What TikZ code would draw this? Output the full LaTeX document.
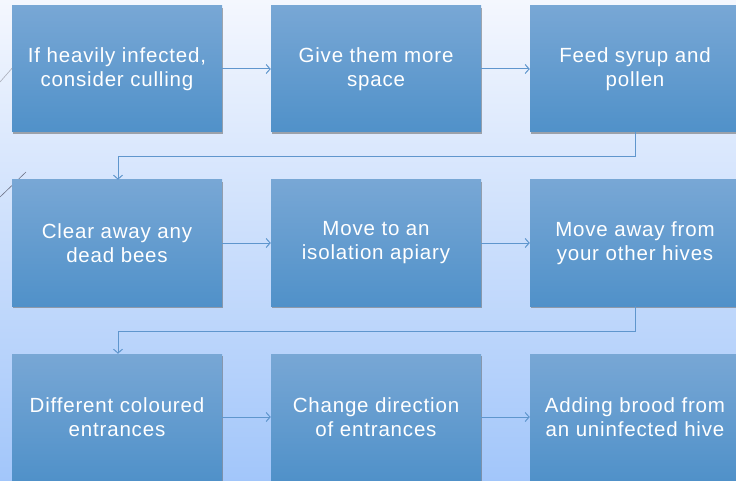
\documentclass[tikz,border=0pt]{standalone}
\usepackage{fontspec}
\setmainfont{Liberation Sans}[LetterSpace=4]
\usetikzlibrary{arrows.meta}
\definecolor{bgtop}{RGB}{244,247,254}
\definecolor{bgbot}{RGB}{162,198,250}
\definecolor{boxtop}{RGB}{120,167,213}
\definecolor{boxbot}{RGB}{80,145,201}
\definecolor{linkc}{RGB}{95,150,205}
\definecolor{diagc}{RGB}{110,115,135}
\tikzset{
  stepbox/.style={rectangle, minimum width=210pt, minimum height=126pt, inner sep=0pt,
    top color=boxtop, bottom color=boxbot, draw=none, text=white, align=center,
    font=\fontsize{20.5}{24}\selectfont},
  shadowbox/.style={rectangle, minimum width=210pt, minimum height=126pt, fill=black!60, opacity=0.55, draw=none},
  link/.style={draw=linkc, line width=1pt, -{Straight Barb[length=4pt,width=9pt]}},
  diag/.style={draw=diagc, line width=0.6pt}
}
\begin{document}
\begin{tikzpicture}[x=1pt,y=-1pt]
\useasboundingbox (0,0) rectangle (736,481);
\clip (0,0) rectangle (736,481);
\shade[top color=bgtop, bottom color=bgbot] (0,0) rectangle (736,481);
% diagonal lines at the left edge
\draw[diag, draw=diagc!60] (0,82) -- (14,66);
\draw[diag] (0,197) -- (26,172);
% shadows
\foreach \x/\y in {117/69,376/69,635/69,117/243,376/243,635/243,117/417,376/417,635/417}{
  \node[shadowbox] at (\x+1.2,\y+2.2) {};
}
\node[stepbox] (a1) at (117,69) {If heavily infected,\\consider culling};
\node[stepbox] (a2) at (376,69) {Give them more\\space};
\node[stepbox] (a3) at (635,69) {Feed syrup and\\pollen};
\node[stepbox] (b1) at (117,243) {Clear away any\\dead bees};
\node[stepbox] (b2) at (376,243) {Move to an\\isolation apiary};
\node[stepbox] (b3) at (635,243) {Move away from\\your other hives};
\node[stepbox] (c1) at (117,417) {Different coloured\\entrances};
\node[stepbox] (c2) at (376,417) {Change direction\\of entrances};
\node[stepbox] (c3) at (635,417) {Adding brood from\\an uninfected hive};
\coordinate (k1) at (635,157);
\coordinate (k2) at (118,157);
\coordinate (m1) at (635,331);
\coordinate (m2) at (118,331);
\draw[link] (a1) -- (a2);
\draw[link] (a2) -- (a3);
\draw[link] (a3.south) -- (k1) -- (k2) -- (k2 |- b1.north);
\draw[link] (b1) -- (b2);
\draw[link] (b2) -- (b3);
\draw[link] (b3.south) -- (m1) -- (m2) -- (m2 |- c1.north);
\draw[link] (c1) -- (c2);
\draw[link] (c2) -- (c3);
\end{tikzpicture}
\end{document}
